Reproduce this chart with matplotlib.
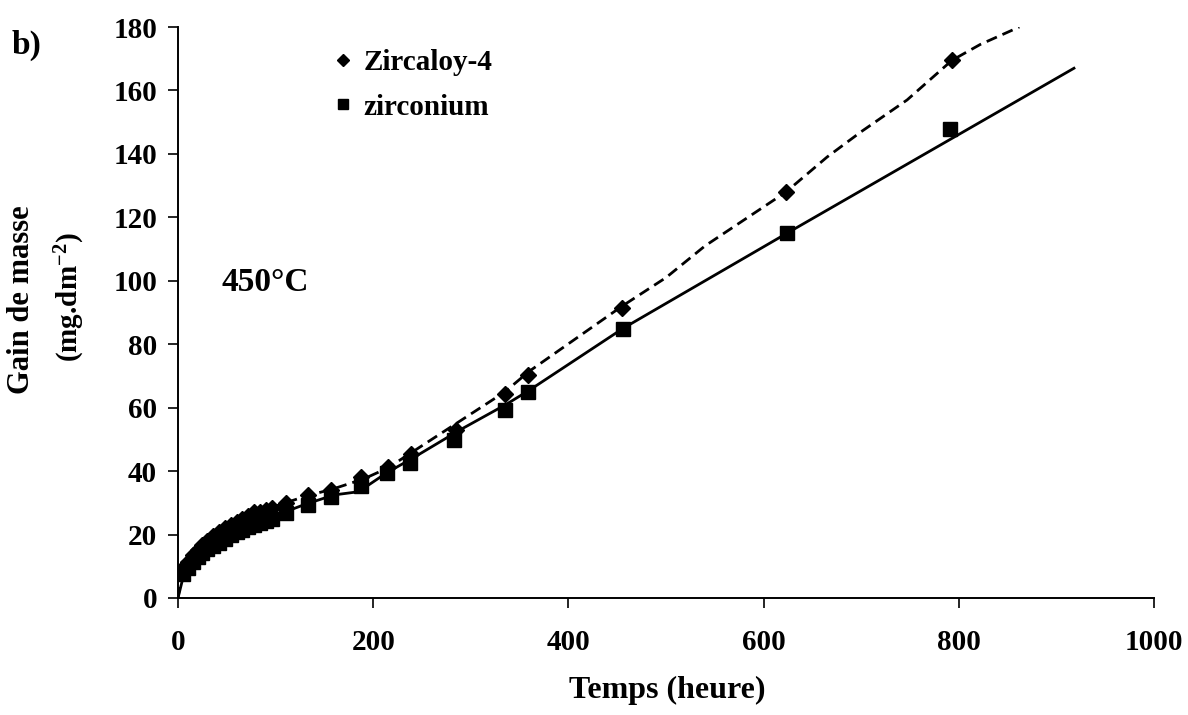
import matplotlib
matplotlib.use("Agg")
import matplotlib.pyplot as plt

# ---- data ----
zy4_t = [5, 10, 15, 20, 25, 30, 36, 42, 48, 54, 60, 66, 72, 78, 84, 90, 96,
         111, 133, 157, 188, 215, 239, 285, 335, 359, 455, 623, 793]
zy4_m = [9.5, 11.5, 13.5, 15.2, 16.6, 18.0, 19.5, 20.8, 22.0, 23.0, 24.0, 25.0, 26.0, 27.0, 27.2, 27.8, 28.3,
         29.9, 32.5, 34.0, 38.2, 41.2, 45.4, 53.0, 64.2, 70.3, 91.3, 128.1, 169.6]

zr_t = [5, 10, 15, 20, 25, 30, 36, 42, 48, 54, 60, 66, 72, 78, 84, 90, 96,
        111, 133, 157, 187, 214, 238, 283, 335, 359, 456, 624, 791]
zr_m = [7.5, 9.5, 11.5, 13.0, 14.3, 15.3, 16.3, 17.3, 18.5, 19.8, 20.8, 21.5, 22.3, 23.0, 23.7, 24.3, 25.0,
        26.7, 29.3, 31.9, 35.3, 39.3, 42.7, 49.8, 59.3, 64.8, 84.8, 115.0, 147.8]

# fitted curves drawn in the reference
zy4_fit_t = [0, 3, 8, 20, 40, 60, 80, 100, 130, 160, 190, 215, 240, 285, 335, 360, 455,
             500, 540, 623, 665, 700, 747, 793, 822, 862]
zy4_fit_m = [0, 6, 10, 15.5, 20.5, 24, 27, 29, 32, 34.5, 37.5, 41, 46, 55, 65, 71.5, 92,
             101, 111, 128, 139, 147, 157, 169.5, 174.5, 180]

zr_fit_t = [0, 4, 8, 15, 30, 50, 75, 100, 130, 160, 185, 214, 240, 289, 336, 360, 456, 624, 918]
zr_fit_m = [0, 5, 8.5, 11.5, 15.5, 19.5, 23, 26, 29.5, 32.5, 33.5, 39.5, 44, 53, 61, 65.5, 85, 115, 167]

x_ticks = [0, 200, 400, 600, 800, 1000]
y_ticks = [0, 20, 40, 60, 80, 100, 120, 140, 160, 180]

# ---- style ----
plt.rcParams['font.family'] = ['Liberation Serif', 'DejaVu Serif']
plt.rcParams['font.weight'] = 'bold'
plt.rcParams['mathtext.fontset'] = 'custom'
plt.rcParams['mathtext.rm'] = 'Liberation Serif:bold'
plt.rcParams['mathtext.bf'] = 'Liberation Serif:bold'
plt.rcParams['mathtext.default'] = 'bf'

W, H = 1188, 715
fig = plt.figure(figsize=(W / 100, H / 100), dpi=100)
left, right, bottom, top = 178, 1154, 598, 27
ax = fig.add_axes([left / W, 1 - bottom / H, (right - left) / W, (bottom - top) / H])

ax.plot(zy4_fit_t, zy4_fit_m, color='black', lw=2.0, linestyle=(0, (4, 2.2)), zorder=2)
ax.plot(zr_fit_t, zr_fit_m, color='black', lw=2.0, linestyle='-', zorder=2)
ax.plot(zy4_t, zy4_m, linestyle='none', marker='D', ms=8, color='black', label='Zircaloy-4', zorder=3)
ax.plot(zr_t, zr_m, linestyle='none', marker='s', ms=10.5, color='black', label='zirconium', zorder=3)

ax.set_xlim(0, 1000)
ax.set_ylim(0, 180)
ax.set_xticks(x_ticks)
ax.set_yticks(y_ticks)
for s in ['top', 'right']:
    ax.spines[s].set_visible(False)
for s in ['left', 'bottom']:
    ax.spines[s].set_linewidth(1.4)
ax.tick_params(axis='both', direction='out', length=7, width=1.2, labelsize=21)
ax.tick_params(axis='x', pad=15)
ax.tick_params(axis='y', pad=8)
for lab in ax.get_xticklabels() + ax.get_yticklabels():
    lab.set_fontweight('bold')

leg = ax.legend(loc='upper left', bbox_to_anchor=(136 / 976, 0.997), frameon=False,
                prop={'size': 21, 'weight': 'bold'}, markerscale=0.75,
                handlelength=0.6, handletextpad=0.4, labelspacing=0.6, borderaxespad=0.3)

ax.text(45, 99.3, '450°C', fontsize=24, fontweight='bold', va='center', ha='left')

fig.text(22 / W, 1 - 300 / H, 'Gain de masse', rotation=90, fontsize=22, fontweight='bold',
         ha='center', va='center')
fig.text(70 / W, 1 - 297 / H, r'(mg.dm$^{-2}$)', rotation=90, fontsize=21, fontweight='bold',
         ha='center', va='center')
fig.text(667 / W, 1 - 690 / H, 'Temps (heure)', fontsize=23, fontweight='bold', ha='center', va='center')
fig.text(12 / W, 1 - 45 / H, 'b)', fontsize=24, fontweight='bold', ha='left', va='center')

fig.savefig('out.png', dpi=100)
